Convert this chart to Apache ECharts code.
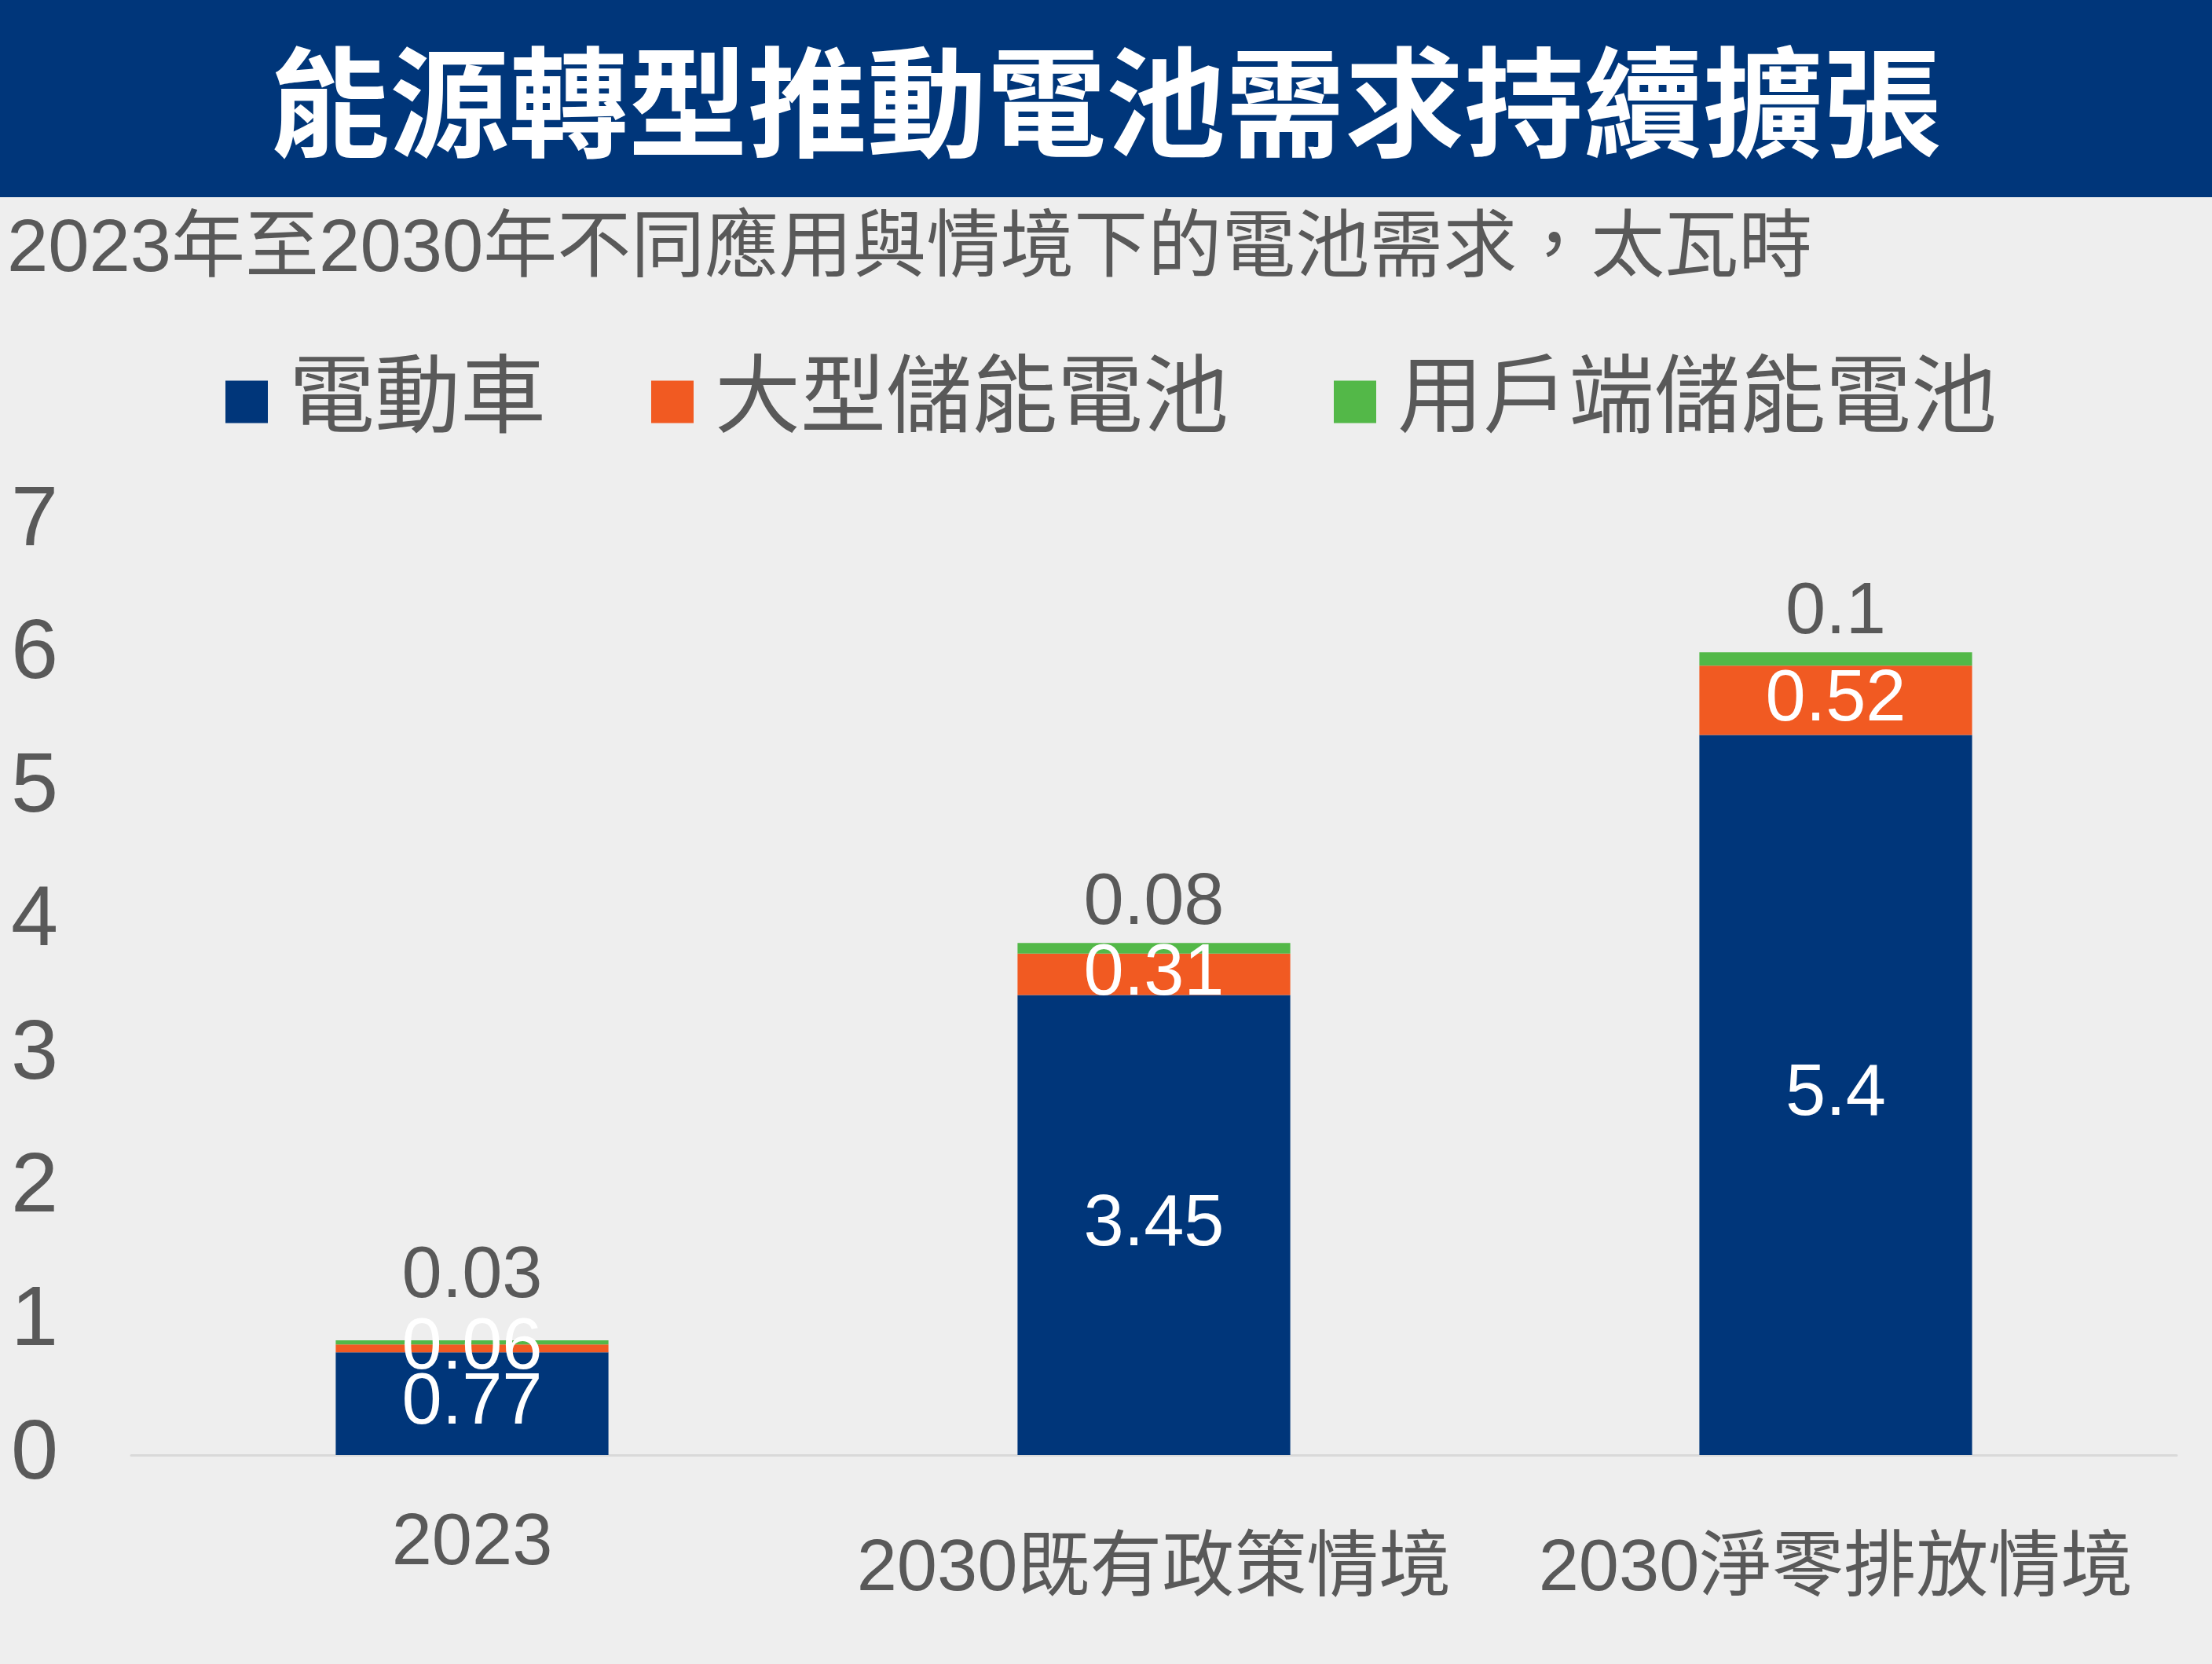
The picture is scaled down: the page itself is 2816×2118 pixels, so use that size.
<!DOCTYPE html>
<html>
<head>
<meta charset="utf-8">
<script src="https://cdn.jsdelivr.net/npm/echarts@6/dist/echarts.min.js"></script>
<style>
html,body{margin:0;padding:0;background:#eeeeee;}
#c{width:2816px;height:2118px;}
</style>
</head>
<body>
<div id="c"></div>
<script>
const titleText = '能源轉型推動電池需求持續擴張';
const subtitleText = '2023年至2030年不同應用與情境下的電池需求，太瓦時';
const categories = ['2023', '2030既有政策情境', '2030淨零排放情境'];
const seriesNames = ['電動車', '大型儲能電池', '用戶端儲能電池'];
const evValues = [0.77, 3.45, 5.4];
const gridStorageValues = [0.06, 0.31, 0.52];
const homeStorageValues = [0.03, 0.08, 0.1];
const yTicks = [0, 1, 2, 3, 4, 5, 6, 7];

const colors = ['#00367a', '#f15a22', '#53b848'];
const grey = '#595959';
const numFont = '"Liberation Sans", Arial, "Noto Sans CJK TC", sans-serif';
const cjkFont = '"Liberation Sans", "Noto Sans CJK TC", sans-serif';

const chart = echarts.init(document.getElementById('c'), null, {renderer: 'canvas'});

const catData = categories.map((c, i) => i === 0 ? {value: c} : {value: c, textStyle: {padding: [33, 0, 0, 0]}});

const topData = homeStorageValues.map((v, i) => i === 0 ? {value: v, label: {distance: 34}} : {value: v});

chart.setOption({
  backgroundColor: '#eeeeee',
  animation: false,
  graphic: [
    {type: 'rect', left: 0, top: 0, shape: {width: 2816, height: 251}, style: {fill: '#00367a'}, z: 0},
    {type: 'text', left: 'center', top: 135 - 81, style: {text: titleText, fill: '#ffffff', font: 'bold 152px "Noto Sans CJK TC", sans-serif'}, z: 1},
    {type: 'text', left: 9, top: 314 - 42, style: {text: subtitleText, fill: grey, font: '94px ' + cjkFont}, z: 1}
  ],
  legend: {
    data: seriesNames,
    left: 282,
    top: 452,
    icon: 'rect',
    itemWidth: 54,
    itemHeight: 54,
    itemGap: 134,
    textStyle: {color: grey, fontSize: 109, fontFamily: cjkFont, padding: [0, 0, 0, 22]}
  },
  grid: {left: 167, right: 45, top: 664, bottom: 266, containLabel: false},
  xAxis: {
    type: 'category',
    data: catData,
    axisLine: {show: true, lineStyle: {color: '#d9d9d9', width: 3}},
    axisTick: {show: false},
    axisLabel: {color: grey, fontSize: 92, fontFamily: cjkFont, margin: 68, interval: 0, verticalAlign: 'top'}
  },
  yAxis: {
    type: 'value',
    min: yTicks[0],
    max: yTicks[yTicks.length - 1],
    interval: 1,
    splitLine: {show: false},
    axisLine: {show: false},
    axisTick: {show: false},
    axisLabel: {color: grey, fontSize: 108, fontFamily: numFont, align: 'left', margin: 153}
  },
  series: [
    {
      name: seriesNames[0], type: 'bar', stack: 'total', barWidth: '40%',
      itemStyle: {color: colors[0]},
      label: {show: true, position: 'inside', color: '#ffffff', fontSize: 92, fontFamily: numFont},
      data: evValues
    },
    {
      name: seriesNames[1], type: 'bar', stack: 'total',
      itemStyle: {color: colors[1]},
      label: {show: true, position: 'inside', color: '#ffffff', fontSize: 92, fontFamily: numFont},
      data: gridStorageValues
    },
    {
      name: seriesNames[2], type: 'bar', stack: 'total',
      itemStyle: {color: colors[2]},
      label: {show: true, position: 'top', distance: 4, color: grey, fontSize: 92, fontFamily: numFont},
      data: topData
    }
  ]
});
</script>
</body>
</html>
